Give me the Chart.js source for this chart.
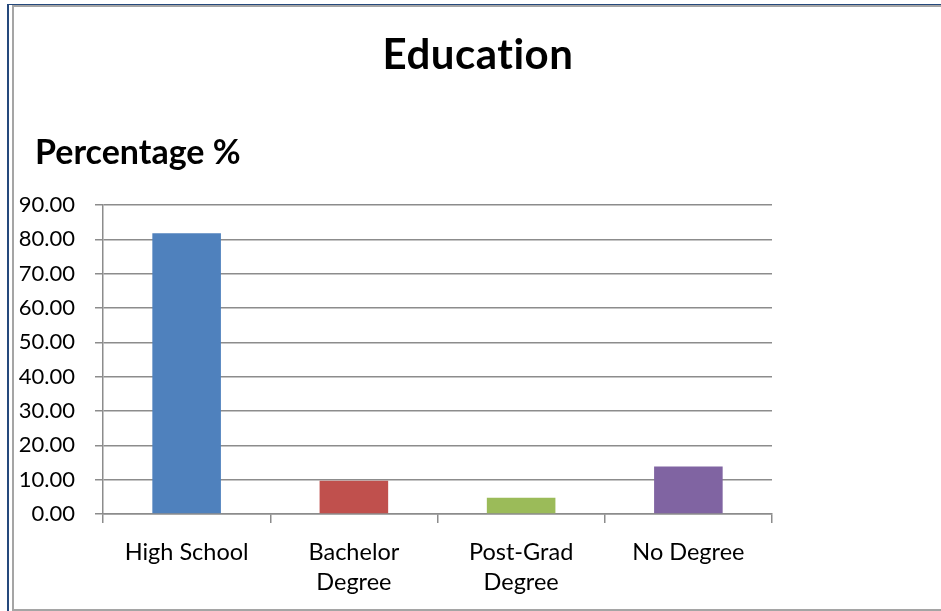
<!DOCTYPE html>
<html>
<head>
<meta charset="utf-8">
<title>Education</title>
<script src="https://cdn.jsdelivr.net/npm/chart.js@4/dist/chart.umd.min.js"></script>
<style>
  html, body { margin: 0; padding: 0; background: #ffffff; overflow: hidden; }
  #frameOuter {
    position: absolute; left: 7px; top: 4px; width: 1000px; height: 700px;
    border-left: 2px solid #25497c; border-top: 1px solid #25497c;
  }
  #frameInner {
    position: absolute; left: 12px; top: 5px; width: 1000px; height: 602px;
    border-left: 2px solid #a5a5a5; border-top: 2px solid #a5a5a5; border-bottom: 2px solid #a5a5a5;
  }
  #chartBox { position: absolute; left: 0; top: 0; width: 941px; height: 611px; }
</style>
</head>
<body>
<div id="frameOuter"></div>
<div id="frameInner"></div>
<div id="chartBox"><canvas id="eduChart"></canvas></div>
<script>
// Dados do gráfico
const titulo = "Education";
const tituloEixo = "Percentage %";
const categorias = [["High School"], ["Bachelor", "Degree"], ["Post-Grad", "Degree"], ["No Degree"]];
const percentuais = [81.8, 9.7, 4.7, 13.8];
const cores = ["#4f81bd", "#c0504d", "#9bbb59", "#8064a2"];
const yMin = 0;
const yMax = 90;
const yPasso = 10;

const fonte = "Lato, 'Open Sans', sans-serif";
const cinzaGrade = "#8c8c8c";

// Título centralizado na moldura e rótulo do eixo acima do gráfico
const cabecalho = {
    id: 'cabecalho',
    afterDraw(chart) {
        const c = chart.ctx;
        c.save();
        c.fillStyle = '#000000';
        c.textBaseline = 'alphabetic';
        c.letterSpacing = '0.5px'; // evita a ligadura "ti" da Lato
        c.font = "bold 42px " + fonte;
        c.textAlign = 'center';
        c.fillText(titulo, 478, 69);
        c.letterSpacing = '0px';
        c.font = "bold 34px " + fonte;
        c.textAlign = 'left';
        c.fillText(tituloEixo, 35, 164);
        c.restore();
    }
};

const ctx = document.getElementById('eduChart').getContext('2d');
const eduChart = new Chart(ctx, {
    type: 'bar',
    data: {
        labels: categorias,
        datasets: [{
            label: tituloEixo,
            data: percentuais,
            backgroundColor: cores,
            borderWidth: 0,
            barPercentage: 0.41,
            categoryPercentage: 1
        }]
    },
    plugins: [cabecalho],
    options: {
        responsive: true,
        maintainAspectRatio: false,
        animation: false,
        layout: {
            padding: { left: 10, right: 169, top: 205, bottom: 0 }
        },
        plugins: {
            legend: { display: false },
            tooltip: { enabled: false },
            title: { display: false }
        },
        scales: {
            x: {
                grid: {
                    offset: true,
                    drawOnChartArea: false,
                    drawTicks: true,
                    tickLength: 9,
                    color: cinzaGrade,
                    lineWidth: 1.5
                },
                border: { color: cinzaGrade, width: 1.5 },
                ticks: {
                    color: '#000000',
                    padding: 14,
                    maxRotation: 0,
                    autoSkip: false,
                    font: { family: fonte, size: 23.5, lineHeight: 1.28 }
                },
                afterFit: (scale) => { scale.height = 97; }
            },
            y: {
                min: yMin,
                max: yMax,
                grid: {
                    color: cinzaGrade,
                    lineWidth: 1.5,
                    tickLength: 8
                },
                border: { color: cinzaGrade, width: 1.5 },
                ticks: {
                    stepSize: yPasso,
                    color: '#000000',
                    padding: 20,
                    font: { family: fonte, size: 22 },
                    callback: (v) => Number(v).toFixed(2)
                },
                afterFit: (scale) => { scale.width = 93; }
            }
        }
    }
});
</script>
</body>
</html>
